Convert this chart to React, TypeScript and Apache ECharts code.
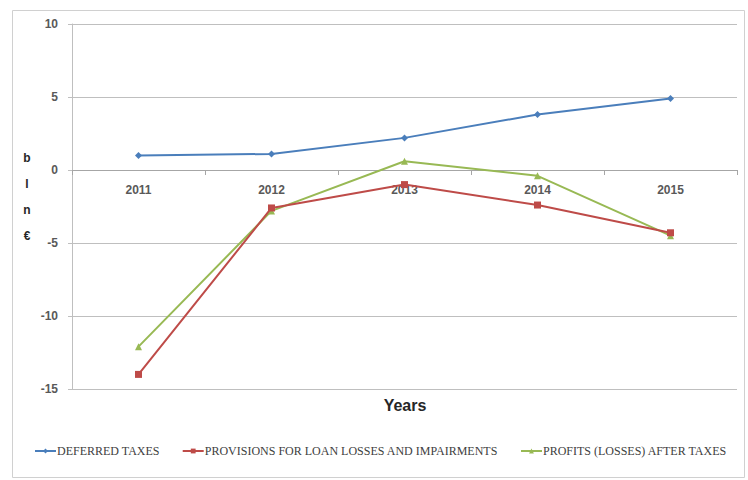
import React, { useEffect, useRef } from "react";
import * as echarts from "echarts";

const years = ["2011", "2012", "2013", "2014", "2015"];
const deferredTaxes = [1.0, 1.1, 2.2, 3.8, 4.9];
const provisions = [-14.0, -2.6, -1.0, -2.4, -4.3];
const profits = [-12.1, -2.8, 0.6, -0.4, -4.5];
const seriesNames = [
  "DEFERRED TAXES",
  "PROVISIONS FOR LOAN LOSSES AND IMPAIRMENTS",
  "PROFITS (LOSSES) AFTER TAXES",
];
const yAxisTitleChars = ["b", "l", "n", "€"];

export default function App() {
  const ref = useRef<HTMLDivElement>(null);
  useEffect(() => {
    if (!ref.current) return;
    const chart = echarts.init(ref.current, undefined, { renderer: "svg" });
    const colors = ["#4A7EBB", "#BE4B48", "#98B954"];
    const symbols = ["diamond", "rect", "triangle"];
    const data = [deferredTaxes, provisions, profits];
    chart.setOption({
      animation: false,
      backgroundColor: "#ffffff",
      color: colors,
      grid: { left: 72, right: 11, top: 24, bottom: 91, containLabel: false },
      legend: {
        top: 440,
        left: 29,
        itemGap: 22,
        itemWidth: 21,
        itemHeight: 6,
        textStyle: { fontFamily: "Liberation Serif", fontSize: 12, color: "#404040", padding: [0, 0, 0, -4] },
        data: seriesNames,
      },
      xAxis: {
        type: "category",
        data: years,
        boundaryGap: true,
        position: "bottom",
        offset: -219,
        axisLine: { onZero: false, lineStyle: { color: "#a6a6a6", width: 1 } },
        axisTick: { show: true, length: 5, lineStyle: { color: "#a6a6a6" } },
        axisLabel: { margin: 14, fontFamily: "Liberation Sans", fontWeight: "bold", fontSize: 12, color: "#595959" },
      },
      yAxis: {
        type: "value",
        min: -15,
        max: 10,
        interval: 5,
        axisLine: { show: true, lineStyle: { color: "#bfbfbf" } },
        axisTick: { show: true, length: 4, lineStyle: { color: "#bfbfbf" } },
        axisLabel: { margin: 14, fontFamily: "Liberation Sans", fontWeight: "bold", fontSize: 12, color: "#595959" },
        splitLine: { lineStyle: { color: "#bfbfbf", width: 1 } },
      },
      graphic: [
        {
          type: "rect",
          shape: { x: 12.5, y: 10.5, width: 732, height: 467 },
          style: { fill: "none", stroke: "#d0d0d0", lineWidth: 1 },
          silent: true,
        },
        {
          type: "text",
          x: 405,
          y: 405,
          style: {
            text: "Years",
            font: "bold 16px Liberation Sans",
            fill: "#262626",
            textAlign: "center",
            textVerticalAlign: "middle",
          },
        },
        ...yAxisTitleChars.map((c, i) => ({
          type: "text",
          x: 27,
          y: 158 + i * 26,
          style: {
            text: c,
            font: "bold 12px Liberation Sans",
            fill: "#262626",
            textAlign: "center",
            textVerticalAlign: "middle",
          },
        })),
      ],
      series: seriesNames.map((name, i) => ({
        name,
        type: "line",
        data: data[i],
        symbol: symbols[i],
        symbolSize: 7,
        lineStyle: { width: 2, color: colors[i] },
        itemStyle: { color: colors[i] },
        z: 3 - i,
      })),
    });
    return () => chart.dispose();
  }, []);
  return (
    <div
      ref={ref}
      style={{ position: "fixed", left: 0, top: 0, width: 748, height: 480 }}
    />
  );
}
